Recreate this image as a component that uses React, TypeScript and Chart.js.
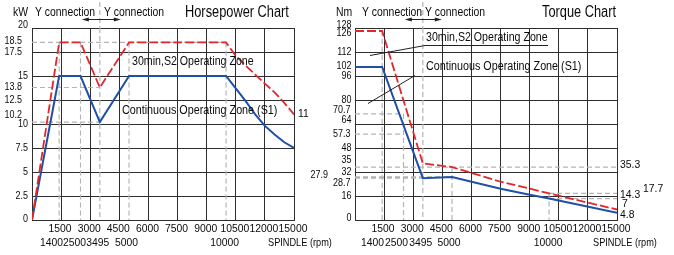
import React, { useEffect, useRef } from "react";
import { Chart, registerables } from "chart.js";

Chart.register(...registerables);

const W = 674;
const H = 255;

// ---------- data ----------
const xTickRpm = [1500, 3000, 4500, 6000, 7500, 9000, 10500, 12000, 15000];
const keyRpm = [1400, 2500, 3495, 5000, 10000];

// Horsepower chart (kW)
const hpS2Rpm = [0, 1400, 2500, 3495, 5000, 10000, 10500, 11000, 11500, 12000, 13000, 14000, 15000];
const hpS2Kw = [0, 18.5, 18.5, 13.8, 18.5, 18.5, 17.1, 16.1, 15.15, 14.2, 13.3, 12.2, 11];
const hpS1Rpm = [0, 1400, 2500, 3495, 5000, 10000, 10500, 11000, 11500, 12000, 13000, 14000, 15000];
const hpS1Kw = [0, 15, 15, 10.2, 15, 15, 13.7, 12.4, 11.0, 9.8, 8.9, 8.1, 7.5];
const hpYLabels = ["0", "2.5", "5", "7.5", "10", "10.2", "12.5", "13.8", "15", "17.5", "18.5", "20"];
const hpGuideY = [18.5, 13.8, 10.2];
const hpGuideYTo = [10000, 3495, 3495];
const hpGuideXTop = [18.5, 18.5, 20, 18.5, 18.5];
const hpEndLabels = ["11"];

// Torque chart (Nm)
const tqS2Rpm = [0, 1400, 3495, 5000, 7500, 9000, 10000, 15000];
const tqS2Nm = [126, 126, 37.7, 35.3, 25.5, 21.0, 17.7, 7];
const tqS1Rpm = [0, 1400, 3495, 5000, 7500, 9000, 10000, 15000];
const tqS1Nm = [102, 102, 27.9, 28.7, 20.8, 16.9, 14.3, 4.8];
const tqYLabels = ["0", "16", "28.7", "32", "35", "48", "57.3", "64", "70.7", "80", "96", "102", "112", "126", "128"];
const tqOuterLabel = "27.9";
const tqGuideY = [70.7, 57.3, 35.3, 28.7, 27.9, 17.7, 14.3];
const tqGuideYFrom = [0, 0, 0, 0, 0, 10000, 10000];
const tqGuideYTo = [2500, 2500, 15000, 5000, 3495, 15000, 15000];
const tqGuideXTop = [126, 70.7, 128, 35.3, 17.7];
const tqEndLabels = ["35.3", "14.3", "17.7", "7", "4.8"];

// ---------- styles / layout ----------
const FONT = '"Liberation Sans", Arial, Helvetica, sans-serif';
const TEXT = "#0a0a0a";
const GRID = "#2e2e2e";
const GUIDE = "#b4b4b4";
const RED = "#e3262b";
const BLUE = "#1f4fa6";

const hpYNudge: Record<string, [number, number]> = {
  "20": [0, -3], "18.5": [-6, -1.5], "17.5": [-6, 0], "13.8": [-6, 0], "12.5": [-6, 0], "10.2": [-6, -7], "0": [0, -1],
};
const tqYNudge: Record<string, [number, number]> = {
  "128": [0, -2.5], "126": [0, 2], "102": [0, -1], "70.7": [-1, -4], "64": [0, -4], "57.3": [-1, 0],
  "35": [0, -7], "28.7": [-1, 6], "0": [0, -2],
};
const hpRow2Dx = [-7.7, -6, -2, -2.5, -1.5];
const tqRow2Dx = [-9.7, -7, -2, -3, -1];
const hpEndPos: [number, number][] = [[4, -1]];
const tqEndPos: [number, number][] = [[3, -2], [3, -3.5], [26, -4.5], [5, -5.5], [3, 2.5]];

// axis warp: last grid interval (12000 -> 15000) is drawn as wide as the others
const pos = (rpm: number) => (rpm <= 12000 ? rpm : 12000 + (rpm - 12000) / 2);
const X_MAX = pos(15000);

function txt(ctx: CanvasRenderingContext2D, s: string, x: number, y: number, size: number, sx: number, align: CanvasTextAlign = "left") {
  ctx.save();
  ctx.font = `${size}px ${FONT}`;
  ctx.fillStyle = TEXT;
  ctx.textBaseline = "middle";
  ctx.textAlign = align;
  ctx.translate(x, y);
  ctx.scale(sx, 1);
  ctx.fillText(s, 0, 0);
  ctx.restore();
}

function line(ctx: CanvasRenderingContext2D, pts: number[][], color = "#222", dash: number[] = [], w = 1) {
  ctx.save();
  ctx.strokeStyle = color;
  ctx.lineWidth = w;
  ctx.setLineDash(dash);
  ctx.beginPath();
  pts.forEach((p, i) => (i ? ctx.lineTo(p[0], p[1]) : ctx.moveTo(p[0], p[1])));
  ctx.stroke();
  ctx.restore();
}

function arrow(ctx: CanvasRenderingContext2D, x1: number, x2: number, y: number) {
  line(ctx, [[x1 + 3, y], [x2 - 3, y]], "#222", [], 1);
  ctx.save();
  ctx.fillStyle = "#222";
  ctx.beginPath();
  ctx.moveTo(x1, y); ctx.lineTo(x1 + 7, y - 2); ctx.lineTo(x1 + 7, y + 2); ctx.closePath(); ctx.fill();
  ctx.beginPath();
  ctx.moveTo(x2, y); ctx.lineTo(x2 - 7, y - 2); ctx.lineTo(x2 - 7, y + 2); ctx.closePath(); ctx.fill();
  ctx.restore();
}

function series(rpm: number[], vals: number[]) {
  return rpm.map((r, i) => ({ x: pos(r), y: vals[i] }));
}

function guides(hY: number[], hFrom: number[], hTo: number[], vX: number[], vTop: number[]) {
  const pts: { x: number; y: number | null }[] = [];
  hY.forEach((y, i) => {
    pts.push({ x: pos(hFrom[i]), y }, { x: pos(hTo[i]), y }, { x: pos(hTo[i]), y: null });
  });
  vX.forEach((x, i) => {
    pts.push({ x: pos(x), y: vTop[i] }, { x: pos(x), y: 0 }, { x: pos(x), y: null });
  });
  return pts;
}

type Spec = {
  left: number; right: number; yMax: number; yStep: number;
  s2: { x: number; y: number }[]; s1: { x: number; y: number }[];
  guide: { x: number; y: number | null }[];
  plugin: any;
};

function makeConfig(sp: Spec): any {
  return {
    type: "line",
    data: {
      datasets: [
        { label: "30min,S2 Operating Zone", data: sp.s2, borderColor: RED, borderWidth: 1.8, borderDash: [9, 3], pointRadius: 0, tension: 0, fill: false },
        { label: "Continuous Operating Zone (S1)", data: sp.s1, borderColor: BLUE, borderWidth: 2, pointRadius: 0, tension: 0, fill: false },
        { label: "guides", data: sp.guide, borderColor: GUIDE, borderWidth: 1.2, borderDash: [5, 3], pointRadius: 0, tension: 0, spanGaps: false, fill: false },
      ],
    },
    options: {
      responsive: false,
      animation: false,
      devicePixelRatio: 1,
      layout: { padding: { left: sp.left, right: W - sp.right, top: 28, bottom: H - 220 } },
      plugins: { legend: { display: false }, tooltip: { enabled: false } },
      events: [],
      scales: {
        x: {
          type: "linear", min: 0, max: X_MAX,
          ticks: { display: false, stepSize: 1500 },
          grid: { color: GRID, lineWidth: 1, drawTicks: false },
          border: { display: true, color: GRID },
        },
        y: {
          type: "linear", min: 0, max: sp.yMax,
          ticks: { display: false, stepSize: sp.yStep },
          grid: { color: GRID, lineWidth: 1, drawTicks: false },
          border: { display: true, color: GRID },
        },
      },
    },
    plugins: [sp.plugin],
  };
}

const hpPlugin = {
  id: "hpText",
  afterDraw(chart: any) {
    const ctx = chart.ctx as CanvasRenderingContext2D;
    const ca = chart.chartArea;
    const X = (r: number) => chart.scales.x.getPixelForValue(pos(r));
    const Y = (v: number) => chart.scales.y.getPixelForValue(v);
    hpYLabels.forEach((l) => {
      const [dx, dy] = hpYNudge[l] || [0, 0];
      txt(ctx, l, ca.left - 4 + dx, Y(parseFloat(l)) + dy, 10.8, 0.83, "right");
    });
    xTickRpm.forEach((r) => txt(ctx, String(r), X(r) - 1, ca.bottom + 9, 11.5, 0.9, "center"));
    keyRpm.forEach((r, i) => txt(ctx, String(r), X(r) + hpRow2Dx[i], ca.bottom + 23, 11.5, 0.9, "center"));
    txt(ctx, "SPINDLE (rpm)", 268, ca.bottom + 23, 11.5, 0.8, "left");
    txt(ctx, "kW", 13, 12, 13, 0.8);
    txt(ctx, "Y connection", 35, 12, 13, 0.8);
    txt(ctx, "Y connection", 104, 12, 13, 0.8);
    txt(ctx, "Horsepower Chart", 185, 12.5, 16, 0.8);
    const xc = X(3495);
    line(ctx, [[xc, 2], [xc, ca.top]], GUIDE, [5, 3], 1.2);
    arrow(ctx, xc - 18, xc + 21, 19.5);
    txt(ctx, "30min,S2 Operating Zone", 132, 61.5, 12.5, 0.85);
    txt(ctx, "Continuous Operating Zone (S1)", 122, 110.5, 12.5, 0.86);
    hpEndLabels.forEach((l, i) => txt(ctx, l, ca.right + hpEndPos[i][0], Y(parseFloat(l)) + hpEndPos[i][1], 11.5, 0.9));
  },
};

const tqPlugin = {
  id: "tqText",
  afterDraw(chart: any) {
    const ctx = chart.ctx as CanvasRenderingContext2D;
    const ca = chart.chartArea;
    const X = (r: number) => chart.scales.x.getPixelForValue(pos(r));
    const Y = (v: number) => chart.scales.y.getPixelForValue(v);
    tqYLabels.forEach((l) => {
      const [dx, dy] = tqYNudge[l] || [0, 0];
      txt(ctx, l, ca.left - 3.5 + dx, Y(parseFloat(l)) + dy, 10.8, 0.83, "right");
    });
    txt(ctx, tqOuterLabel, ca.left - 27, Y(parseFloat(tqOuterLabel)) - 3, 10.8, 0.83, "right");
    xTickRpm.forEach((r) => txt(ctx, String(r), X(r) - 1, ca.bottom + 9, 11.5, 0.9, "center"));
    keyRpm.forEach((r, i) => txt(ctx, String(r), X(r) + tqRow2Dx[i], ca.bottom + 23, 11.5, 0.9, "center"));
    txt(ctx, "SPINDLE (rpm)", 593, ca.bottom + 23, 11.5, 0.8, "left");
    txt(ctx, "Nm", 336, 12, 13, 0.8);
    txt(ctx, "Y connection", 362, 12, 13, 0.8);
    txt(ctx, "Y connection", 425, 12, 13, 0.8);
    txt(ctx, "Torque Chart", 542, 12.5, 16, 0.8);
    const xc = X(3495);
    line(ctx, [[xc, 2], [xc, ca.top]], GUIDE, [5, 3], 1.2);
    arrow(ctx, xc - 18, xc + 19, 19.5);
    txt(ctx, "30min,S2 Operating Zone", 426, 38, 12.5, 0.85);
    txt(ctx, "Continuous Operating Zone (S1)", 426, 66.5, 12.5, 0.86);
    line(ctx, [[370, 55.5], [425, 45.5], [548, 45.5]], "#222", [], 1);
    line(ctx, [[368, 103.5], [415, 75.5]], "#222", [], 1);
    tqEndLabels.forEach((l, i) => txt(ctx, l, ca.right + tqEndPos[i][0], Y(parseFloat(l)) + tqEndPos[i][1], 11.5, 0.9));
  },
};

export default function App() {
  const hpRef = useRef<HTMLCanvasElement | null>(null);
  const tqRef = useRef<HTMLCanvasElement | null>(null);

  useEffect(() => {
    const hp = new Chart(hpRef.current as HTMLCanvasElement, makeConfig({
      left: 32, right: 294, yMax: 20, yStep: 2.5,
      s2: series(hpS2Rpm, hpS2Kw), s1: series(hpS1Rpm, hpS1Kw),
      guide: guides(hpGuideY, hpGuideY.map(() => 0), hpGuideYTo, keyRpm, hpGuideXTop),
      plugin: hpPlugin,
    }));
    const tq = new Chart(tqRef.current as HTMLCanvasElement, makeConfig({
      left: 355, right: 617, yMax: 128, yStep: 16,
      s2: series(tqS2Rpm, tqS2Nm), s1: series(tqS1Rpm, tqS1Nm),
      guide: guides(tqGuideY, tqGuideYFrom, tqGuideYTo, keyRpm, tqGuideXTop),
      plugin: tqPlugin,
    }));
    return () => { hp.destroy(); tq.destroy(); };
  }, []);

  const cs: React.CSSProperties = { position: "absolute", left: 0, top: 0, width: W, height: H };
  return (
    <div style={{ position: "fixed", left: 0, top: 0, width: W, height: H, background: "#fff", overflow: "hidden" }}>
      <canvas ref={hpRef} width={W} height={H} style={cs} />
      <canvas ref={tqRef} width={W} height={H} style={cs} />
    </div>
  );
}
